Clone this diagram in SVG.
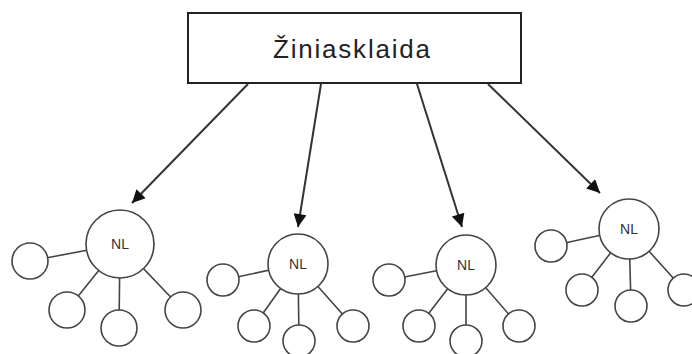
<svg xmlns="http://www.w3.org/2000/svg" width="692" height="354" viewBox="0 0 692 354">
  <style>
    .box { fill: #fff; stroke: #222; stroke-width: 2; }
    .title { font-family: "Liberation Sans", Arial, sans-serif; font-size: 26px; fill: #222; }
    .arrow { stroke: #333; stroke-width: 2; fill: none; marker-end: url(#head); }
    .link { stroke: #444; stroke-width: 1.6; }
    .hub { fill: #fff; stroke: #444; stroke-width: 1.6; }
    .leaf { fill: #fff; stroke: #444; stroke-width: 1.6; }
    .nl { font-family: "Liberation Sans", Arial, sans-serif; font-size: 14px; fill: #333; text-anchor: middle; }
  </style>
  <defs>
    <marker id="head" viewBox="0 0 10 10" refX="10" refY="5" markerWidth="7.5" markerHeight="6.5" orient="auto" markerUnits="strokeWidth">
      <path d="M0,0 L10,5 L0,10 z" fill="#111"/>
    </marker>
  </defs>
  <rect width="692" height="354" fill="#fff"/>

  <g id="media">
    <rect class="box" x="188" y="13" width="333" height="70"/>
    <text class="title" x="273" y="58" textLength="157" lengthAdjust="spacing">Žiniasklaida</text>
  </g>

  <g id="connectors">
    <line class="arrow" x1="248" y1="84" x2="132" y2="203"/>
    <line class="arrow" x1="321" y1="84" x2="298" y2="227"/>
    <line class="arrow" x1="417" y1="84" x2="462" y2="227"/>
    <line class="arrow" x1="488" y1="84" x2="600" y2="193"/>
  </g>

  <g id="network1">
    <line class="link" x1="120" y1="244" x2="30" y2="261"/>
    <line class="link" x1="120" y1="244" x2="67" y2="310"/>
    <line class="link" x1="120" y1="244" x2="119" y2="328"/>
    <line class="link" x1="120" y1="244" x2="183" y2="310"/>
    <circle class="hub" cx="120" cy="244" r="34"/>
    <circle class="leaf" cx="30" cy="261" r="18"/>
    <circle class="leaf" cx="67" cy="310" r="18"/>
    <circle class="leaf" cx="119" cy="328" r="18"/>
    <circle class="leaf" cx="183" cy="310" r="18"/>
    <text class="nl" x="120" y="249">NL</text>
  </g>

  <g id="network2">
    <line class="link" x1="298" y1="264" x2="223" y2="280"/>
    <line class="link" x1="298" y1="264" x2="254" y2="326"/>
    <line class="link" x1="298" y1="264" x2="299" y2="341"/>
    <line class="link" x1="298" y1="264" x2="353" y2="326"/>
    <circle class="hub" cx="298" cy="264" r="30"/>
    <circle class="leaf" cx="223" cy="280" r="16"/>
    <circle class="leaf" cx="254" cy="326" r="16"/>
    <circle class="leaf" cx="299" cy="341" r="16"/>
    <circle class="leaf" cx="353" cy="326" r="16"/>
    <text class="nl" x="298" y="269">NL</text>
  </g>

  <g id="network3">
    <line class="link" x1="466" y1="265" x2="389" y2="280"/>
    <line class="link" x1="466" y1="265" x2="419" y2="326"/>
    <line class="link" x1="466" y1="265" x2="466" y2="341"/>
    <line class="link" x1="466" y1="265" x2="519" y2="326"/>
    <circle class="hub" cx="466" cy="265" r="30"/>
    <circle class="leaf" cx="389" cy="280" r="16"/>
    <circle class="leaf" cx="419" cy="326" r="16"/>
    <circle class="leaf" cx="466" cy="341" r="16"/>
    <circle class="leaf" cx="519" cy="326" r="16"/>
    <text class="nl" x="466" y="270">NL</text>
  </g>

  <g id="network4">
    <line class="link" x1="629" y1="229" x2="551" y2="246"/>
    <line class="link" x1="629" y1="229" x2="582" y2="290"/>
    <line class="link" x1="629" y1="229" x2="631" y2="306"/>
    <line class="link" x1="629" y1="229" x2="684" y2="290"/>
    <circle class="hub" cx="629" cy="229" r="30"/>
    <circle class="leaf" cx="551" cy="246" r="16"/>
    <circle class="leaf" cx="582" cy="290" r="16"/>
    <circle class="leaf" cx="631" cy="306" r="16"/>
    <circle class="leaf" cx="684" cy="290" r="16"/>
    <text class="nl" x="629" y="234">NL</text>
  </g>
</svg>
